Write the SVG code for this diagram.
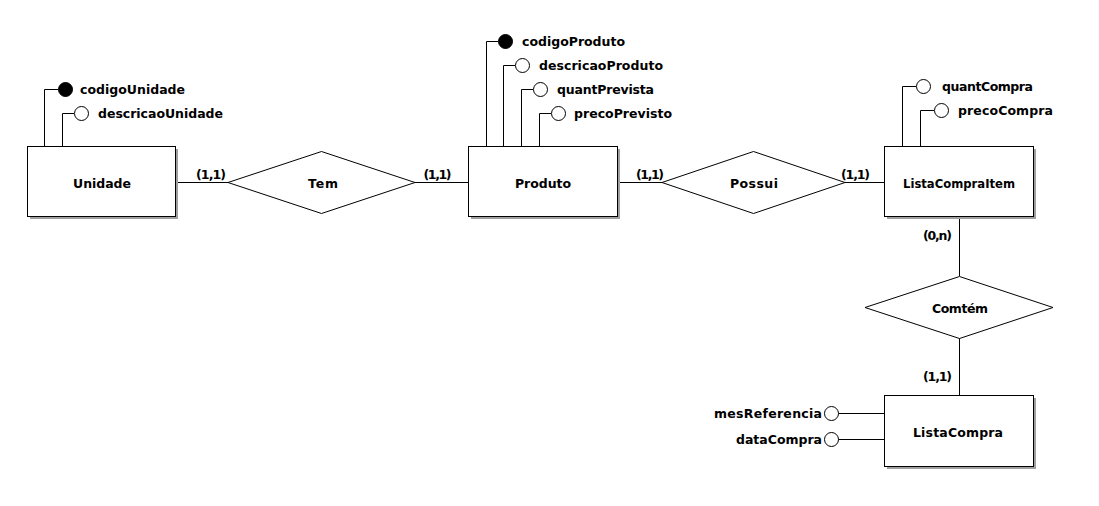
<svg xmlns="http://www.w3.org/2000/svg" width="1099" height="506" viewBox="0 0 1099 506">
<style>
text{font-family:"DejaVu Sans","Liberation Sans",sans-serif;font-weight:bold;font-size:12.5px;fill:#000}
.shadow{fill:#a0a0a0}
.ent{fill:#fff;stroke:#000;stroke-width:1}
.rel{fill:#fff;stroke:#000;stroke-width:1}
.ln{fill:none;stroke:#000;stroke-width:1}
.pk{fill:#000;stroke:#000;stroke-width:1}
.at{fill:#fff;stroke:#000;stroke-width:1}
.mid{text-anchor:middle}
.end{text-anchor:end}
</style>
<rect width="1099" height="506" fill="#fff"/>
<g id="connectors">
<path class="ln" d="M175.5,182.5H228"/>
<path class="ln" d="M415,182.5H468"/>
<path class="ln" d="M617,182.5H662"/>
<path class="ln" d="M845,182.5H884"/>
<path class="ln" d="M959.5,217V276"/>
<path class="ln" d="M959.5,338V395"/>
<text class="mid" x="211" y="179" textLength="30">(1,1)</text>
<text class="mid" x="437.5" y="179" textLength="28">(1,1)</text>
<text class="mid" x="650" y="179" textLength="28">(1,1)</text>
<text class="mid" x="855.5" y="179" textLength="29">(1,1)</text>
<text class="mid" x="937.5" y="240" textLength="29">(0,n)</text>
<text class="mid" x="937.5" y="381" textLength="29">(1,1)</text>
</g>
<g id="Unidade">
<rect class="shadow" x="30" y="149" width="148" height="70"/>
<rect class="ent" x="27.5" y="146.5" width="148" height="70"/>
<text class="mid" x="102" y="188" textLength="58">Unidade</text>
</g>
<g id="attr-codigoUnidade">
<path class="ln" d="M44.5,146V89.5H58"/>
<circle class="pk" cx="65.5" cy="89.5" r="7"/>
<text x="80" y="93.5" textLength="105">codigoUnidade</text>
</g>
<g id="attr-descricaoUnidade">
<path class="ln" d="M62.5,146V113.5H74"/>
<circle class="at" cx="81.5" cy="113.5" r="7"/>
<text x="98" y="117.5" textLength="125">descricaoUnidade</text>
</g>
<g id="Tem">
<polygon class="rel" points="228,182.5 321.5,151.5 415,182.5 321.5,213.5"/>
<text class="mid" x="323" y="188" textLength="30">Tem</text>
</g>
<g id="Produto">
<rect class="shadow" x="471" y="149" width="149" height="70"/>
<rect class="ent" x="468.5" y="146.5" width="149" height="70"/>
<text class="mid" x="543" y="188" textLength="56">Produto</text>
</g>
<g id="attr-codigoProduto">
<path class="ln" d="M486.5,146V41.5H498"/>
<circle class="pk" cx="505.5" cy="41.5" r="7"/>
<text x="522" y="46" textLength="103">codigoProduto</text>
</g>
<g id="attr-descricaoProduto">
<path class="ln" d="M503.5,146V65.5H515"/>
<circle class="at" cx="522.5" cy="65.5" r="7"/>
<text x="539" y="70" textLength="124">descricaoProduto</text>
</g>
<g id="attr-quantPrevista">
<path class="ln" d="M521.5,146V89.5H533"/>
<circle class="at" cx="540.5" cy="89.5" r="7"/>
<text x="557" y="94" textLength="97">quantPrevista</text>
</g>
<g id="attr-precoPrevisto">
<path class="ln" d="M539.5,146V113.5H551"/>
<circle class="at" cx="558.5" cy="113.5" r="7"/>
<text x="574" y="118" textLength="98">precoPrevisto</text>
</g>
<g id="Possui">
<polygon class="rel" points="662,182.5 753.5,151.5 845,182.5 753.5,213.5"/>
<text class="mid" x="754" y="188" textLength="48">Possui</text>
</g>
<g id="ListaCompraItem">
<rect class="shadow" x="887" y="149" width="149" height="70"/>
<rect class="ent" x="884.5" y="146.5" width="149" height="70"/>
<text class="mid" x="959" y="188" textLength="112" lengthAdjust="spacingAndGlyphs">ListaCompraItem</text>
</g>
<g id="attr-quantCompra">
<path class="ln" d="M902.5,146V86.5H916"/>
<circle class="at" cx="923.5" cy="86.5" r="7"/>
<text x="942" y="91" textLength="91">quantCompra</text>
</g>
<g id="attr-precoCompra">
<path class="ln" d="M920.5,146V110.5H934"/>
<circle class="at" cx="941.5" cy="110.5" r="7"/>
<text x="958" y="115" textLength="95">precoCompra</text>
</g>
<g id="Comtem">
<polygon class="rel" points="865,307.5 959.5,276.5 1053,307.5 959.5,338.5"/>
<text class="mid" x="960" y="313" textLength="56">Comtém</text>
</g>
<g id="ListaCompra">
<rect class="shadow" x="887" y="398" width="149" height="71"/>
<rect class="ent" x="884.5" y="395.5" width="149" height="71"/>
<text class="mid" x="958" y="437" textLength="90">ListaCompra</text>
</g>
<g id="attr-mesReferencia">
<path class="ln" d="M838,413.5H884"/>
<circle class="at" cx="831.5" cy="413.5" r="7"/>
<text class="end" x="822" y="418" textLength="108">mesReferencia</text>
</g>
<g id="attr-dataCompra">
<path class="ln" d="M838,439.5H884"/>
<circle class="at" cx="831.5" cy="439.5" r="7"/>
<text class="end" x="822" y="444" textLength="86">dataCompra</text>
</g>
</svg>
